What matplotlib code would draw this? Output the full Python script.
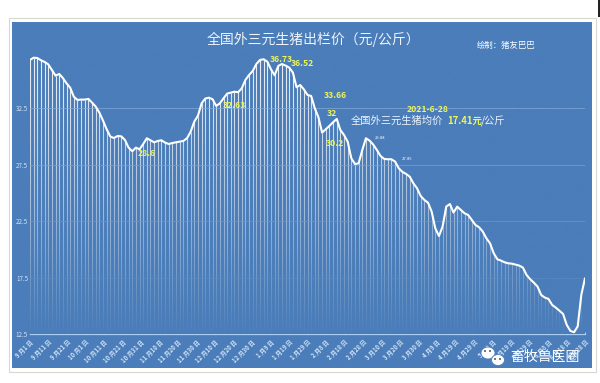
import matplotlib
matplotlib.use("Agg")
import matplotlib.pyplot as plt
import numpy as np
from matplotlib.patches import Rectangle, Ellipse

plt.rcParams['font.family'] = ['Noto Sans CJK SC', 'DejaVu Sans']

# readings taken evenly along the curve, first one on 9/1, last one on 6/28
prices = [
    36.78, 36.98, 36.95, 36.75, 36.6, 36.39, 35.89, 35.39, 35.54, 35.18,
    34.71, 34.33, 33.53, 33.24, 33.27, 33.27, 33.33, 33.0, 32.65, 32.12,
    31.41, 30.64, 30.0, 29.87, 30.05, 30.02, 29.7, 29.02, 28.7, 29.02,
    28.87, 29.34, 29.85, 29.67, 29.49, 29.61, 29.67, 29.46, 29.34, 29.43,
    29.49, 29.55, 29.61, 29.85, 30.43, 31.32, 31.85, 32.94, 33.36, 33.44,
    33.3, 32.71, 32.94, 33.38, 33.8, 33.89, 33.97, 33.92, 34.27, 35.01,
    35.45, 35.8, 36.42, 36.78, 36.84, 36.63, 35.95, 35.42, 36.25, 36.42,
    36.28, 36.1, 35.66, 34.36, 34.56, 34.18, 33.68, 33.59, 32.5, 31.7,
    30.35, 30.64, 30.94, 31.26, 31.56, 30.58, 30.14, 29.55, 28.08, 27.57,
    27.63, 28.81, 29.85, 29.64, 29.29, 28.81, 28.28, 28.02, 27.99, 27.99,
    27.78, 27.19, 26.87, 26.69, 26.45, 25.86, 25.42, 24.74, 24.39, 24.15,
    23.36, 21.88, 21.2, 22.03, 23.8, 24.03, 23.27, 23.8, 23.5, 23.21,
    23.06, 22.62, 22.18, 21.97, 21.59, 20.99, 20.55, 19.67, 19.14, 19.02,
    18.87, 18.78, 18.75, 18.67, 18.58, 18.4, 17.75, 17.37, 17.07, 16.72,
    15.98, 15.75, 15.63, 15.1, 14.86, 14.59, 14.3, 13.33, 12.8, 12.68,
    13.2, 16.01, 17.46,
]
tick_days = [0, 10, 20, 30, 40, 50, 60, 70, 80, 90, 100, 110, 120, 130, 140,
             150, 160, 170, 180, 190, 200, 210, 220, 230, 240, 250, 260, 270,
             280, 290, 300]
tick_labels = ['9 月1 日', '9 月11 日', '9 月21 日', '10 月1 日', '10 月11 日',
               '10 月21 日', '10 月31 日', '11 月10 日', '11 月20 日', '11 月30 日',
               '12 月10 日', '12 月20 日', '12 月30 日', '1 月9 日', '1 月19 日',
               '1 月29 日', '2 月8 日', '2 月18 日', '2 月28 日', '3 月10 日',
               '3 月20 日', '3 月30 日', '4 月9 日', '4 月19 日', '4 月29 日',
               '5 月9 日', '5 月19 日', '5 月29 日', '6 月8 日', '6 月18 日',
               '6 月28 日']
y_ticks = [12.5, 17.5, 22.5, 27.5, 32.5]

W, H = 600, 383
BLUE = '#4a7db9'
YELLOW = '#eef55a'
PALE = '#cfe2f7'


def fx(px):
    return px / W


def fy(py):
    return 1 - py / H


def label(px, py, s, color='white', size=6, ha='left', weight='normal'):
    fig.text(fx(px), fy(py), s, color=color, fontsize=size, ha=ha, va='center',
             fontweight=weight, zorder=10)


fig = plt.figure(figsize=(W / 100, H / 100), dpi=100, facecolor='white')

# frame and blue panel behind the chart
fig.add_artist(Rectangle((fx(9), fy(372)), 587 / W, 354 / H, transform=fig.transFigure,
                         facecolor='white', edgecolor='#d8d8d0', lw=0.8, zorder=-2))
fig.add_artist(Rectangle((fx(12), fy(368)), 580 / W, 346 / H, transform=fig.transFigure,
                         facecolor=BLUE, edgecolor='none', zorder=-1))
fig.add_artist(Rectangle((fx(598), fy(17)), 2 / W, 17 / H, transform=fig.transFigure,
                         facecolor='#222222', edgecolor='none', zorder=-1))

# axes runs from the first to the last day, 12.5 on the bottom line
ax = fig.add_axes([fx(30), fy(334.3), 555 / W, (334.3 - 50) / H])
ax.set_zorder(2)
ax.patch.set_alpha(0)
days = np.linspace(0, 300, len(prices))
y_top = 12.5 + (334.3 - 50) / 11.3

ax.vlines(days, 12.5, prices, color='white', lw=0.8, alpha=0.9, zorder=2)

# fade the bars out toward the bottom
fade = np.zeros((256, 1, 4))
fade[..., :3] = matplotlib.colors.to_rgb(BLUE)
fade[:, 0, 3] = np.clip(np.linspace(0.0, 1.0, 256) ** 1.3, 0, 1)
ax.imshow(fade, extent=[-2, 302, 12.5, y_top], origin='upper', aspect='auto', zorder=3)

ax.plot(days, prices, color='white', lw=1.5, zorder=5, solid_capstyle='round')

ax.set_xlim(0, 300)
ax.set_ylim(12.5, y_top)
ax.set_yticks(y_ticks)
ax.set_yticklabels([str(v) for v in y_ticks], color=PALE, fontsize=4.5)
ax.set_xticks(tick_days)
ax.set_xticklabels(tick_labels, rotation=45, ha='right', rotation_mode='anchor',
                   color=PALE, fontsize=4.3, fontweight='bold')
ax.tick_params(axis='y', length=0, pad=1.5)
ax.tick_params(axis='x', direction='in', length=1.5, width=0.6, color=PALE, pad=3)
ax.grid(axis='y', color='#8fb4e0', lw=0.6, alpha=0.8, zorder=4)
ax.set_axisbelow(False)
for side in ['top', 'right', 'left']:
    ax.spines[side].set_visible(False)
ax.spines['bottom'].set_color('#a9cdf2')
ax.spines['bottom'].set_linewidth(0.9)

# texts on the chart
label(207, 39, '全国外三元生猪出栏价（元/公斤）', color='#eef4fb', size=10)
label(477, 45, '绘制：猪友巴巴', size=6)
label(407, 109, '2021-6-28', color=YELLOW, size=6.2, weight='bold')
label(351, 121, '全国外三元生猪均价', color='#eef4fb', size=7.4)
label(447, 121, '17.41元', color=YELLOW, size=6.8, weight='bold')
label(481, 121, '/公斤', color='#eef4fb', size=7.4)

label(270, 60, '36.73', color=YELLOW, size=6.2, weight='bold')
label(291, 64, '36.52', color=YELLOW, size=6.2, weight='bold')
label(324, 95, '33.66', color=YELLOW, size=6.2, weight='bold')
label(327, 114, '32', color=YELLOW, size=6.2, weight='bold')
label(326, 143, '30.2', color=YELLOW, size=6.2, weight='bold')
label(223, 106, '32.63', color=YELLOW, size=6.2, weight='bold')
label(138, 153, '28.6', color=YELLOW, size=6.2, weight='bold')
label(375, 138, '29.88', size=3)
label(402, 159, '27.85', size=3)

# watermark
for cx, cy, w, h in [(488, 353, 14, 12), (498, 360, 13, 11)]:
    fig.add_artist(Ellipse((fx(cx), fy(cy)), w / W, h / H, transform=fig.transFigure,
                           facecolor='white', edgecolor=BLUE, lw=0.6, zorder=9))
for cx, cy in [(485, 351), (490, 351), (495, 359), (500, 359)]:
    fig.add_artist(Ellipse((fx(cx), fy(cy)), 2 / W, 2 / H, transform=fig.transFigure,
                           facecolor='#555555', edgecolor='none', zorder=9))
label(510, 357, '畜牧兽医圈', size=10)

fig.savefig('out.png', dpi=100, facecolor='white')
